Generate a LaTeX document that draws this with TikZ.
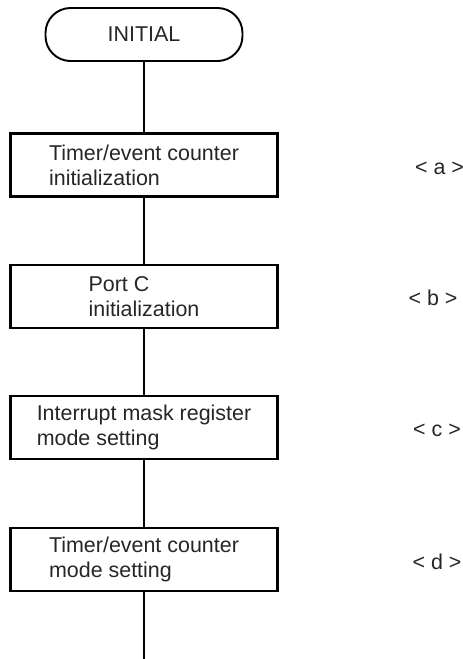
\documentclass[tikz,border=0pt]{standalone}
\usepackage{fontspec}
\setmainfont{Liberation Sans}
\usetikzlibrary{positioning}

\tikzset{
  terminal/.style={draw, line width=1.1pt, rounded corners=0.5cm, minimum width=3.94cm, minimum height=1.06cm},
  procbox/.style={draw, line width=1.4pt, minimum width=5.34cm, minimum height=1.26cm, align=left},
  flowline/.style={line width=0.6pt}
}

\begin{document}
\begin{tikzpicture}[font=\fontsize{12.2}{14.2}\selectfont, text=black!85]
    \useasboundingbox (0,0) rectangle (9.26,-13.18);

    % Start terminal
    \node[terminal] (init) at (2.88,-0.69) {INITIAL};

    % Processing steps
    \node[procbox] (a) at (2.88,-3.30) {Timer/event counter\\initialization};
    \node[procbox] (b) at (2.88,-5.93) {Port C\\initialization};
    \node[procbox] (c) at (2.88,-8.55) {Interrupt mask register\\mode setting};
    \node[procbox] (d) at (2.88,-11.19) {Timer/event counter\\mode setting};
    \coordinate (end) at (2.88,-13.18);

    % Step labels
    \node (la) at (8.79,-3.36) {< a >};
    \node (lb) at (8.66,-5.96) {< b >};
    \node (lc) at (8.74,-8.60) {< c >};
    \node (ld) at (8.74,-11.24) {< d >};

    % Flow line
    \draw[flowline] (init) -- (a) -- (b) -- (c) -- (d) -- (end);
\end{tikzpicture}
\end{document}
